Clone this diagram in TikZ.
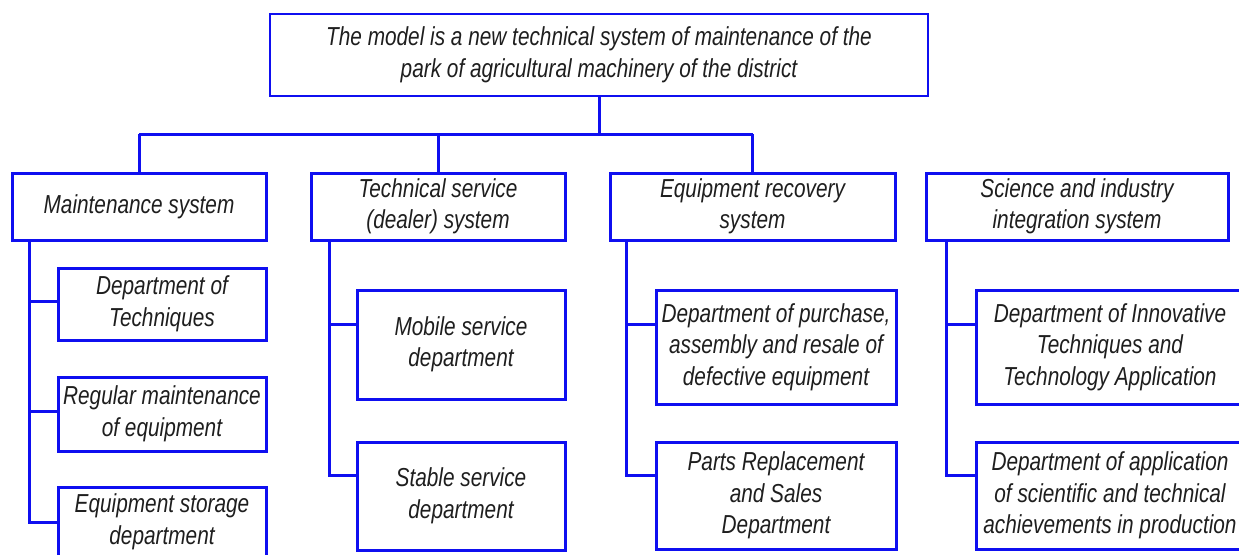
\documentclass[tikz,border=0pt]{standalone}
\usepackage{fontspec}
\newfontfamily\gost{Liberation Sans}[FakeStretch=0.8]
\definecolor{lineblue}{RGB}{15,15,240}
\definecolor{txt}{RGB}{30,30,30}
\tikzset{
  box/.style={draw=lineblue, line width=3pt, inner sep=0pt, align=center,
    text=txt, font=\gost\itshape\fontsize{26}{31.5}\selectfont},
  link/.style={draw=lineblue, line width=3pt}
}
\begin{document}
\begin{tikzpicture}[x=1pt,y=-1pt]
\useasboundingbox (0,0) rectangle (1239,554);
\clip (0,0) rectangle (1239,554);
% top
\node[box, line width=2.2pt, minimum width=658pt, minimum height=82pt] (top) at (599,55)
  {The model is a new technical system of maintenance of the\\park of agricultural machinery of the district};
% level 2
\node[box, minimum width=254pt, minimum height=67pt] (c1) at (139,206.5) {Maintenance system};
\node[box, minimum width=254pt, minimum height=67pt] (c2) at (438,206.5) {Technical service\\(dealer) system};
\node[box, minimum width=285pt, minimum height=67pt] (c3) at (752.5,206.5) {Equipment recovery\\system};
\node[box, minimum width=302pt, minimum height=67pt] (c4) at (1077,206.5) {Science and industry\\integration system};
% level 3, column 1
\node[box, minimum width=208pt, minimum height=72pt] (d11) at (162,304) {Department of\\Techniques};
\node[box, minimum width=208pt, minimum height=74pt] (d12) at (162,414) {Regular maintenance\\of equipment};
\node[box, minimum width=208pt, minimum height=70pt] (d13) at (162,522) {Equipment storage\\department};
% column 2
\node[box, minimum width=208pt, minimum height=109pt] (d21) at (461,344.5) {Mobile service\\department};
\node[box, minimum width=208pt, minimum height=108pt] (d22) at (461,496) {Stable service\\department};
% column 3
\node[box, minimum width=240pt, minimum height=114pt] (d31) at (776,347) {Department of purchase,\\assembly and resale of\\defective equipment};
\node[box, minimum width=240pt, minimum height=107pt] (d32) at (776,495.5) {Parts Replacement\\and Sales\\Department};
% column 4
\node[box, minimum width=268pt, minimum height=114pt] (d41) at (1110,347) {Department of Innovative\\Techniques and\\Technology Application};
\node[box, minimum width=268pt, minimum height=107pt] (d42) at (1110,495.5) {Department of application\\of scientific and technical\\achievements in production};
% bus
\coordinate (bL) at (139,134);
\coordinate (bR) at (752.5,134);
\draw[link] (top.south) -- (top.south |- bL);
\draw[link] (bL) -- (bR);
\draw[link] (bL) -- (c1.north);
\draw[link] (c2.north |- bL) -- (c2.north);
\draw[link] (bR) -- (c3.north);
% stems
\coordinate (s1) at ([xshift=19pt]c1.south west);
\coordinate (s2) at ([xshift=20pt]c2.south west);
\coordinate (s3) at ([xshift=18pt]c3.south west);
\coordinate (s4) at ([xshift=22pt]c4.south west);
\draw[link] (s1) |- ([yshift=-35pt]d11.north west);
\draw[link] (s1) |- ([yshift=-36pt]d12.north west);
\draw[link] (s1) |- ([yshift=-37pt]d13.north west);
\draw[link] (s2) |- ([yshift=-36pt]d21.north west);
\draw[link] (s2) |- ([yshift=-35pt]d22.north west);
\draw[link] (s3) |- ([yshift=-36pt]d31.north west);
\draw[link] (s3) |- ([yshift=-35pt]d32.north west);
\draw[link] (s4) |- ([yshift=-36pt]d41.north west);
\draw[link] (s4) |- ([yshift=-35pt]d42.north west);
\end{tikzpicture}
\end{document}
